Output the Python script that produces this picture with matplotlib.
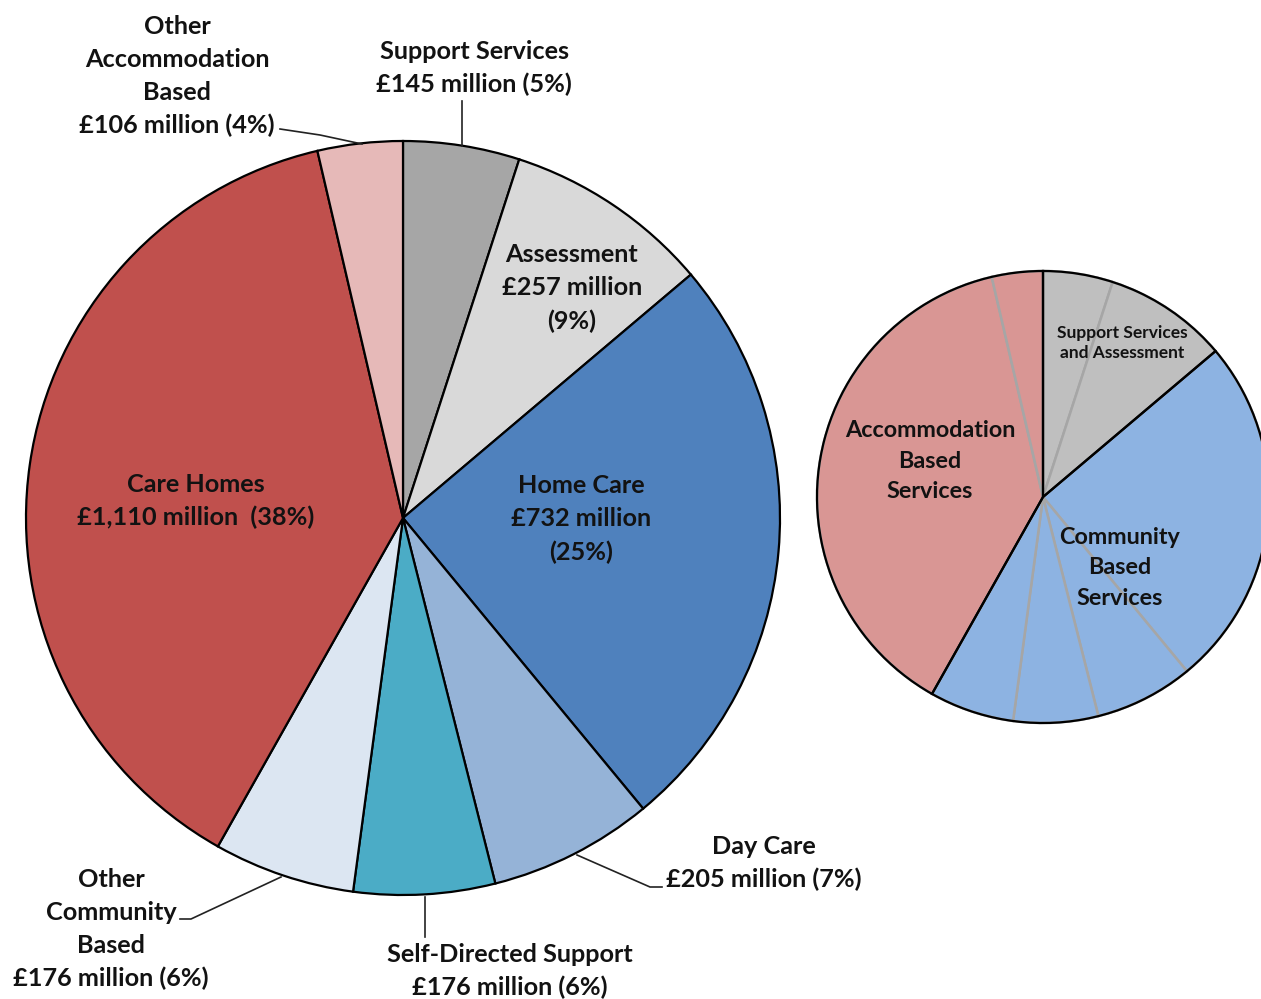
import matplotlib
matplotlib.use("Agg")
import matplotlib.pyplot as plt

# Spending by service, clockwise from 12 o'clock (£ million)
categories = ["Support Services", "Assessment", "Home Care", "Day Care",
              "Self-Directed Support", "Other Community Based", "Care Homes",
              "Other Accommodation Based"]
spend = [145, 257, 732, 205, 176, 176, 1110, 106]
percent = [5, 9, 25, 7, 6, 6, 38, 4]

# Grouping used by the summary pie
groups = ["Support Services and Assessment", "Community Based Services",
          "Accommodation Based Services"]
group_of = [0, 0, 1, 1, 1, 1, 2, 2]

detail_colors = ["#a6a6a6", "#d9d9d9", "#4f81bd", "#95b3d7",
                 "#4bacc6", "#dce6f2", "#c0504d", "#e6b9b8"]
group_colors = ["#bfbfbf", "#8db3e2", "#d99694"]

plt.rcParams["font.family"] = ["Lato", "DejaVu Sans"]
TXT = "#121212"

fig = plt.figure(figsize=(12.61, 9.99), dpi=100)
ax = fig.add_axes([0, 0, 1, 1])

# Main pie (y axis is inverted, so counterclock=True renders clockwise)
big_c, big_r = (403, 518), 377
ax.pie(spend, colors=detail_colors, startangle=-90, counterclock=True,
       center=big_c, radius=big_r,
       wedgeprops=dict(edgecolor="black", linewidth=1.6))

# Summary pie: detail wedges in group colours with grey dividers
small_c, small_r = (1043, 497), 226
ax.pie(spend, colors=[group_colors[g] for g in group_of], startangle=-90,
       counterclock=True, center=small_c, radius=small_r,
       wedgeprops=dict(edgecolor="#a6a6a6", linewidth=1.8))
group_totals = [sum(v for v, g in zip(spend, group_of) if g == k) for k in range(3)]
ax.pie(group_totals, colors=["none"] * 3, startangle=-90, counterclock=True,
       center=small_c, radius=small_r,
       wedgeprops=dict(edgecolor="black", linewidth=1.6, facecolor="none"))

ax.set_xlim(0, 1261)
ax.set_ylim(999, 0)
ax.set_aspect("equal")
ax.axis("off")


def money(v):
    return f"£{v:,} million"


fs = 18.2
kw = dict(ha="center", va="center", fontsize=fs, fontweight="bold",
          color=TXT, linespacing=1.52)

# Labels on the main pie
ax.text(177, 76, f"Other\nAccommodation\nBased\n{money(spend[7])} ({percent[7]}%)", **kw)
ax.text(474, 68, f"{categories[0]}\n{money(spend[0])} ({percent[0]}%)", **kw)
ax.text(572, 288, f"{categories[1]}\n{money(spend[1])}\n({percent[1]}%)", **kw)
ax.text(581, 519, f"{categories[2]}\n{money(spend[2])}\n({percent[2]}%)", **kw)
ax.text(196, 501, f"{categories[6]}\n{money(spend[6])}  ({percent[6]}%)", **kw)
ax.text(764, 863, f"{categories[3]}\n{money(spend[3])} ({percent[3]}%)", **kw)
ax.text(510, 971, f"{categories[4]}\n{money(spend[4])} ({percent[4]}%)", **kw)
ax.text(111, 929, f"Other\nCommunity\nBased\n{money(spend[5])} ({percent[5]}%)", **kw)

# Leader lines
lk = dict(color="#222222", linewidth=1.2)
ax.plot([280, 320, 362], [129, 135, 144], **lk)
ax.plot([462, 462], [101, 146], **lk)
ax.plot([577, 650, 662], [855, 887, 887], **lk)
ax.plot([425, 425], [897, 937], **lk)
ax.plot([281, 191, 180], [877, 919, 919], **lk)

# Labels on the summary pie
ax.text(1122, 343, "Support Services\nand Assessment", ha="center", va="center",
        fontsize=12.5, fontweight="bold", color=TXT, linespacing=1.3)
kw2 = dict(ha="center", va="center", fontsize=16.8, fontweight="bold",
           color=TXT, linespacing=1.55)
ax.text(930, 461, "Accommodation\nBased\nServices", **kw2)
ax.text(1120, 568, "Community\nBased\nServices", **kw2)

fig.savefig("out.png", dpi=100)
